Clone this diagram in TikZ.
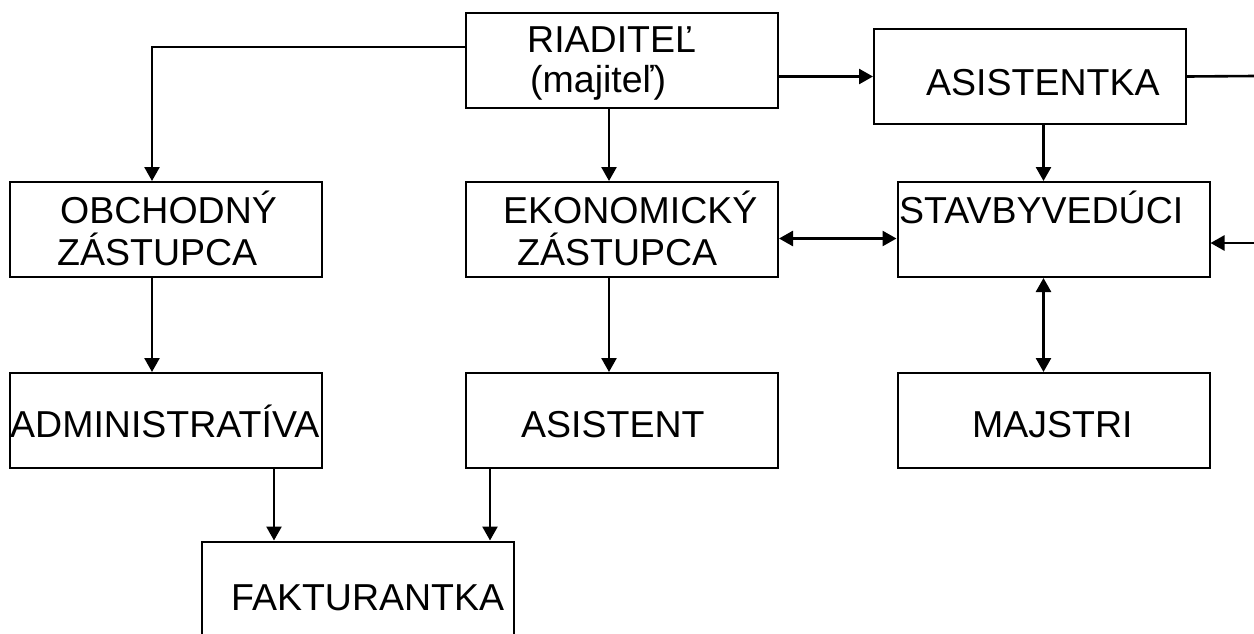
\documentclass[tikz,border=0pt]{standalone}
\usepackage{fontspec}
\setmainfont{Liberation Sans}
\usetikzlibrary{arrows.meta}
\begin{document}
\begin{tikzpicture}[x=1pt,y=-1pt,
  box/.style={draw,line width=2pt,rectangle,inner sep=0pt,minimum width=312pt,minimum height=95pt},
  txt/.style={anchor=base west,inner sep=0pt,font=\fontsize{37.5}{42}\selectfont},
  conn/.style={line width=2.6pt},
  arr/.style={conn,-{Triangle[length=14pt,width=15pt]}},
  darr/.style={conn,{Triangle[length=14pt,width=15pt]}-{Triangle[length=14pt,width=15pt]}}]
\useasboundingbox (0,0) rectangle (1254,633);
% boxes
\node[box] (rid) at (622,60) {};
\node[box] (asi) at (1030,76.5) {};
\node[box] (obch) at (166,229.5) {};
\node[box] (ekon) at (622,229.5) {};
\node[box] (stav) at (1053.5,229.5) {};
\node[box] (admin) at (166,420.5) {};
\node[box] (asist) at (622,420.5) {};
\node[box] (maj) at (1053.5,420.5) {};
\node[box] (fakt) at (358,589) {};
% texts
\node[txt] (t1) at (527,52) {RIADITEĽ};
\node[txt] (t2) at (530,92) {(majiteľ)};
\node[txt] (t3) at (926,95) {ASISTENTKA};
\node[txt] (t4) at (60,223) {OBCHODNÝ};
\node[txt] (t5) at (57,265) {ZÁSTUPCA};
\node[txt] (t6) at (503,223) {EKONOMICKÝ};
\node[txt] (t7) at (517,265) {ZÁSTUPCA};
\node[txt] (t8) at (899,223) {STAVBYVEDÚCI};
\node[txt] (t9) at (10,437) {ADMINISTRATÍVA};
\node[txt] (t10) at (521,437) {ASISTENT};
\node[txt] (t11) at (972,437) {MAJSTRI};
\node[txt] (t12) at (231,610) {FAKTURANTKA};
% free ends
\coordinate (r1) at (1254,76);
\coordinate (r2) at (1254,243);
\coordinate (lc) at (152,47);
\coordinate (a1) at ([xshift=108pt]admin.south);
\coordinate (a2) at ([xshift=-132pt]asist.south);
% connectors
\draw[arr] (rid.west |- lc) -| (obch.north -| lc);
\draw[arr] ([xshift=-13pt]rid.south) -- ([xshift=-13pt]ekon.north);
\draw[arr] (rid.east |- asi.west) -- (asi.west);
\draw[arr] ([xshift=-10pt]stav.north |- asi.south) -- ([xshift=-10pt]stav.north);
\draw[conn] (asi.east) -- (r1);
\draw[arr] (r2) -- (stav.east |- r2);
\draw[darr] ([yshift=-9pt]ekon.east) -- ([yshift=-9pt]stav.west);
\draw[darr] ([xshift=-10pt]stav.south) -- ([xshift=-10pt]maj.north);
\draw[arr] ([xshift=-14pt]obch.south) -- ([xshift=-14pt]admin.north);
\draw[arr] ([xshift=-13pt]ekon.south) -- ([xshift=-13pt]asist.north);
\draw[arr] (a1) -- (a1 |- fakt.north);
\draw[arr] (a2) -- (a2 |- fakt.north);
\end{tikzpicture}
\end{document}
